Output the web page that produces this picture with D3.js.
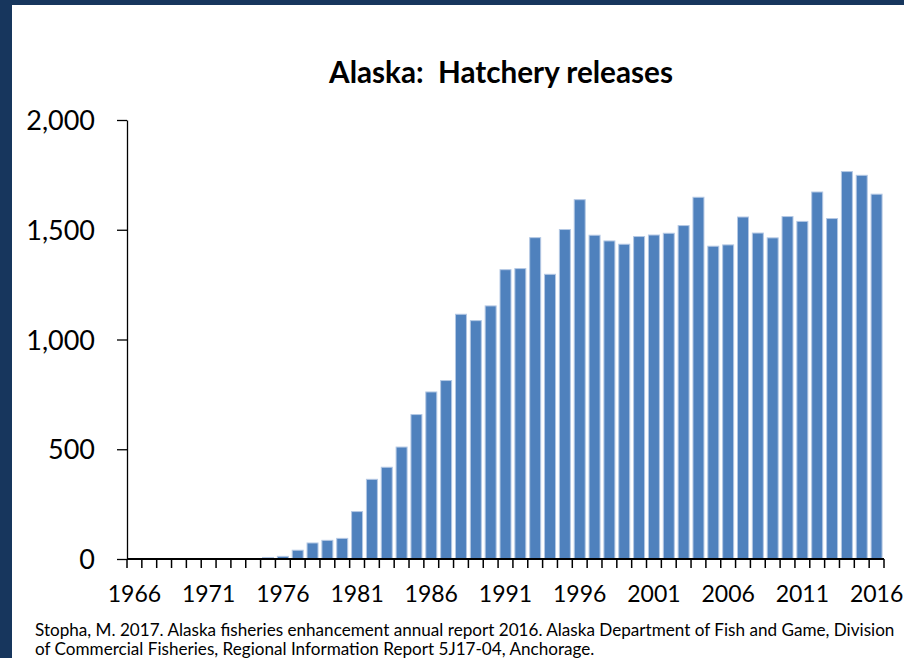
<!DOCTYPE html>
<html>
<head>
<meta charset="utf-8">
<script src="https://cdn.jsdelivr.net/npm/d3@7"></script>
<style>
  html, body { margin: 0; padding: 0; background: #fff; }
  svg { display: block; }
</style>
</head>
<body>
<svg id="chart" width="904" height="658"></svg>
<script>
// Release years shown on the category axis
const years = [
  1966, 1967, 1968, 1969, 1970, 1971, 1972, 1973, 1974, 1975,
  1976, 1977, 1978, 1979, 1980, 1981, 1982, 1983, 1984, 1985,
  1986, 1987, 1988, 1989, 1990, 1991, 1992, 1993, 1994, 1995,
  1996, 1997, 1998, 1999, 2000, 2001, 2002, 2003, 2004, 2005,
  2006, 2007, 2008, 2009, 2010, 2011, 2012, 2013, 2014, 2015, 2016
];

// Hatchery releases (millions of fish) per year
const releases = [
  0, 0, 0, 0, 0, 0, 0, 0, 0, 7,
  12, 40, 73, 85, 94, 216, 363, 418, 510, 658,
  761, 813, 1115, 1086, 1153, 1318, 1323, 1464, 1297, 1501,
  1637, 1475, 1449, 1434, 1469, 1476, 1484, 1519, 1648, 1425,
  1431, 1558, 1485, 1463, 1560, 1538, 1672, 1551, 1765, 1748, 1662
];

// Labelled years on the x axis and value ticks on the y axis
const xTickYears = [1966, 1971, 1976, 1981, 1986, 1991, 1996, 2001, 2006, 2011, 2016];
const yTicks = [0, 500, 1000, 1500, 2000];

const titleText = "Alaska:  Hatchery releases";
const sourceLines = [
  "Stopha, M. 2017. Alaska fisheries enhancement annual report 2016. Alaska Department of Fish and Game, Division",
  "of Commercial Fisheries, Regional Information Report 5J17-04, Anchorage."
];

const FONT = "Lato, Carlito, 'Open Sans', sans-serif";
const svg = d3.select("#chart");

// Frame: white page with a navy band along the top and left edges
svg.append("rect").attr("x", 0).attr("y", 0).attr("width", 904).attr("height", 658).attr("fill", "#ffffff");
svg.append("rect").attr("x", 0).attr("y", 0).attr("width", 904).attr("height", 5).attr("fill", "#17365d");
svg.append("rect").attr("x", 0).attr("y", 0).attr("width", 12).attr("height", 658).attr("fill", "#17365d");

const plot = { left: 127, right: 884, top: 120, bottom: 559 };
const pad = 0.26;

const x = d3.scaleBand()
  .domain(years)
  .range([plot.left, plot.right])
  .paddingInner(pad)
  .paddingOuter(pad / 2);

const y = d3.scaleLinear()
  .domain([0, 2000])
  .range([plot.bottom, plot.top]);

const data = years.map((yr, i) => ({ year: yr, value: releases[i] }));

// Bars
svg.append("g")
  .selectAll("rect")
  .data(data.filter(d => d.value > 0))
  .join("rect")
  .attr("x", d => x(d.year))
  .attr("y", d => y(d.value))
  .attr("width", x.bandwidth())
  .attr("height", d => y(0) - y(d.value))
  .attr("fill", "#4f81bd")
  .attr("stroke", "#b4c8e4")
  .attr("stroke-width", 1);

// Y axis
const yAxis = svg.append("g").attr("transform", `translate(${plot.left},0)`)
  .call(d3.axisLeft(y).tickValues(yTicks).tickSize(10).tickSizeOuter(0).tickFormat(d3.format(",")));
yAxis.select(".domain").attr("stroke", "#000").attr("stroke-width", 1.3);
yAxis.selectAll(".tick line").attr("stroke", "#000").attr("stroke-width", 1.3);
yAxis.selectAll(".tick text")
  .attr("x", -32)
  .attr("dy", "0.36em")
  .attr("fill", "#000")
  .style("font-family", FONT)
  .style("font-size", "27px");

// X axis: baseline plus tick marks at the category boundaries
const step = x.step();
const boundaries = years.map(yr => x(yr) - step * pad / 2).concat([plot.right]);
const xAxis = svg.append("g");
xAxis.append("line")
  .attr("x1", plot.left).attr("x2", plot.right)
  .attr("y1", y(0)).attr("y2", y(0))
  .attr("stroke", "#000").attr("stroke-width", 2);
xAxis.selectAll("line.tick")
  .data(boundaries)
  .join("line")
  .attr("class", "tick")
  .attr("x1", d => d).attr("x2", d => d)
  .attr("y1", y(0)).attr("y2", y(0) + 9)
  .attr("stroke", "#000").attr("stroke-width", 1.5);
xAxis.selectAll("text")
  .data(xTickYears)
  .join("text")
  .attr("x", d => x(d) + x.bandwidth() / 2)
  .attr("y", 602)
  .attr("text-anchor", "middle")
  .attr("fill", "#000")
  .style("font-family", FONT)
  .style("font-size", "23px")
  .text(d => d);

// Helper: size a text element so that it spans the given width
function fitWidth(sel, width) {
  sel.style("font-size", "100px");
  const w = sel.node().getComputedTextLength();
  sel.style("font-size", (100 * width / w) + "px");
}

// Title
const title = svg.append("text")
  .attr("x", 501)
  .attr("y", 83)
  .attr("text-anchor", "middle")
  .attr("fill", "#000")
  .style("font-family", FONT)
  .style("font-weight", "bold")
  .style("white-space", "pre")
  .text(titleText);
fitWidth(title, 344);

// Source note, two lines
const src = svg.append("g");
const l1 = src.append("text")
  .attr("x", 35).attr("y", 636)
  .attr("fill", "#000")
  .style("font-family", FONT)
  .text(sourceLines[0]);
fitWidth(l1, 860);
const fs = l1.style("font-size");
src.append("text")
  .attr("x", 35).attr("y", 655)
  .attr("fill", "#000")
  .style("font-family", FONT)
  .style("font-size", fs)
  .text(sourceLines[1]);
</script>
</body>
</html>
